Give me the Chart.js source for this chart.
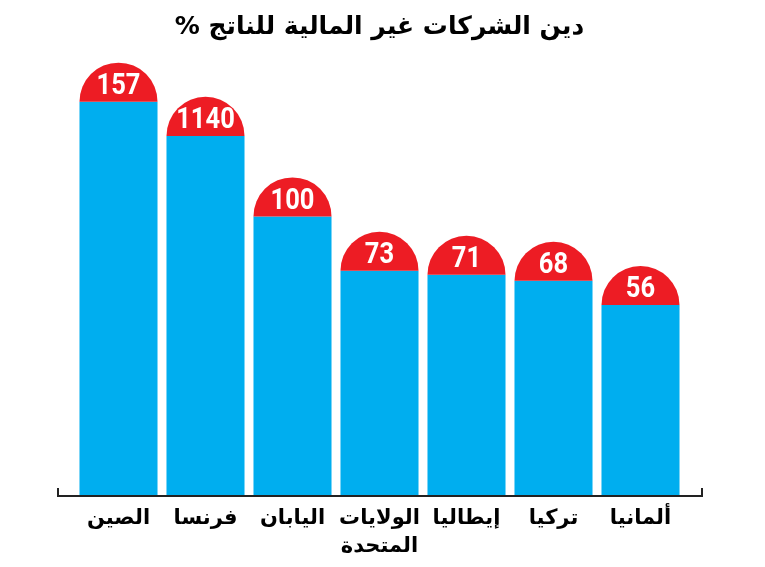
<!DOCTYPE html>
<html>
<head>
<meta charset="utf-8">
<script src="https://cdn.jsdelivr.net/npm/chart.js@4/dist/chart.umd.min.js"></script>
<style>
  body { margin: 0; background: #fff; }
  canvas { display: block; direction: rtl; }
</style>
</head>
<body>
<canvas id="myChart" width="765" height="567" dir="rtl"></canvas>
<script>
/* DATA */

const countries = ['الصين', 'فرنسا', 'اليابان', ['الولايات', 'المتحدة'], 'إيطاليا', 'تركيا', 'ألمانيا'];
const debtValues = [157, 140, 100, 73, 71, 68, 56];
const valueLabels = ['157', '1140', '100', '73', '71', '68', '56'];
const chartTitle = 'دين الشركات غير المالية للناتج %';

/* RED CAPS, NUMBERS AND BASE LINE */

const capsPlugin = {
  id: 'caps',
  afterDatasetsDraw(chart) {
    const ctx = chart.ctx;
    const area = chart.chartArea;
    const meta = chart.getDatasetMeta(0);
    ctx.save();
    meta.data.forEach((bar, i) => {
      const r = bar.width / 2;
      ctx.beginPath();
      ctx.arc(bar.x, bar.y, r, Math.PI, 2 * Math.PI);
      ctx.closePath();
      ctx.fillStyle = '#ED1C24';
      ctx.fill();
      // condensed white number
      ctx.save();
      ctx.translate(bar.x, bar.y - 15);
      ctx.scale(0.88, 1);
      ctx.fillStyle = '#fff';
      ctx.font = 'bold 29px "Roboto", sans-serif';
      ctx.textAlign = 'center';
      ctx.textBaseline = 'middle';
      ctx.fillText(valueLabels[i], 0, 0);
      ctx.restore();
    });
    // axis line with small end ticks
    const y = area.bottom + 1;
    ctx.beginPath();
    ctx.moveTo(area.left - 17, y - 8);
    ctx.lineTo(area.left - 17, y);
    ctx.lineTo(area.right + 18, y);
    ctx.lineTo(area.right + 18, y - 8);
    ctx.strokeStyle = '#222';
    ctx.lineWidth = 2;
    ctx.stroke();
    ctx.restore();
  }
};

/* CREATE CHART */

const ctx = document.getElementById('myChart').getContext('2d');
const myChart = new Chart(ctx, {
  type: 'bar',
  data: {
    labels: countries,
    datasets: [{
      data: debtValues,
      base: -38.4,
      backgroundColor: '#00AEEF',
      borderWidth: 0,
      barPercentage: 0.897,
      categoryPercentage: 1
    }]
  },
  options: {
    responsive: false,
    animation: false,
    layout: { padding: { top: 0, left: 75, right: 81, bottom: 8 } },
    plugins: {
      legend: { display: false },
      tooltip: { enabled: false },
      title: {
        display: true,
        text: chartTitle,
        color: '#000',
        font: { family: 'DejaVu Sans', size: 25, weight: 'bold', lineHeight: 1.2 },
        padding: { top: 12, bottom: 18 }
      }
    },
    scales: {
      x: {
        grid: { display: false, drawTicks: false },
        border: { display: false },
        afterFit(scale) { scale.height = 64; },
        ticks: {
          color: '#000',
          padding: 9,
          font: { family: 'DejaVu Sans', size: 21, weight: 'bold', lineHeight: 1.35 },
          maxRotation: 0
        }
      },
      y: { display: false, min: -38.4, max: 177.7 }
    }
  },
  plugins: [capsPlugin]
});
</script>
</body>
</html>
